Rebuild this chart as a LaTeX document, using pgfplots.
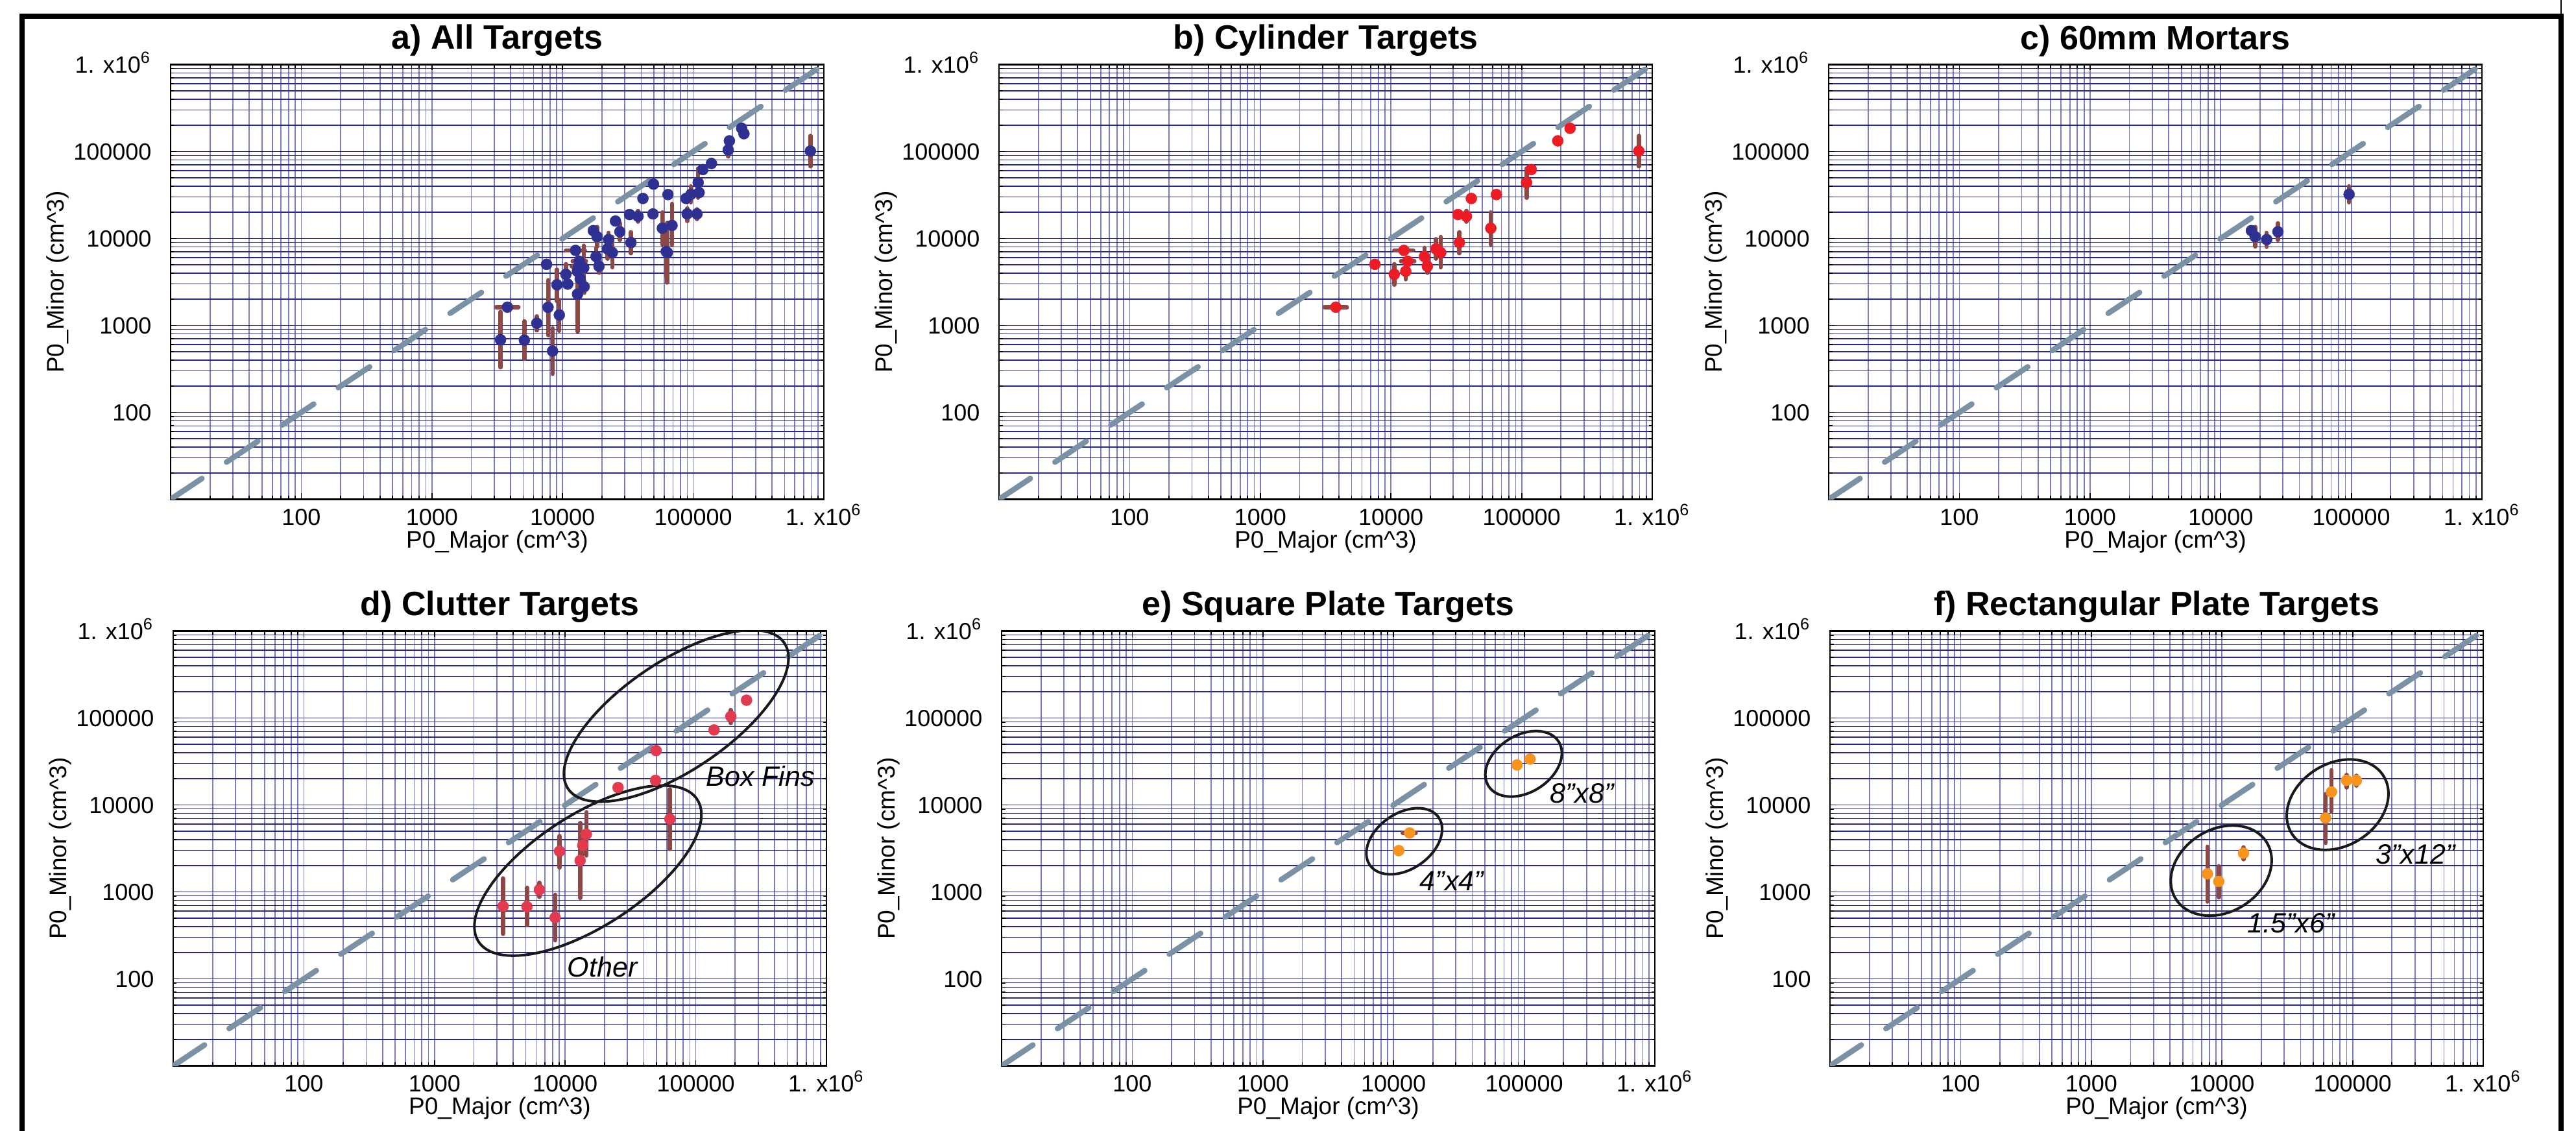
\documentclass[border=0pt]{standalone}
\usepackage{pgfplots}
\pgfplotsset{compat=1.18}
\usepackage{pgfplotstable}
\usepackage{fontspec}
\setmainfont{Liberation Sans}

\definecolor{gridh}{RGB}{40,40,140}
\definecolor{gridv}{RGB}{125,125,195}
\definecolor{dashc}{RGB}{123,146,165}
\definecolor{errc}{RGB}{140,72,68}
\definecolor{mblue}{RGB}{46,49,146}
\definecolor{mred}{RGB}{237,28,36}
\definecolor{mcrim}{RGB}{226,58,78}
\definecolor{morange}{RGB}{247,148,29}

% Cylinder targets
\pgfplotstableread{
x y xm xp ym yp
3785 1622 685 815 0 0
7540 5040 0 0 350 400
10600 3868 0 0 934 1202
12570 7290 1970 2250 0 0
13430 5464 1490 1670 0 0
12980 4193 0 0 805 1337
18030 6200 0 0 1275 1610
19000 4786 0 0 759 1067
22100 7590 0 0 1737 2240
24040 6880 0 0 2230 3530
33390 8966 0 0 2205 2854
32580 18840 0 0 1300 1500
37830 17990 0 0 2410 2780
41210 28840 0 0 2000 2300
58080 13110 0 0 4600 6840
64110 31990 0 0 2000 2300
109100 43900 0 0 14550 19930
118500 62000 0 0 4000 4500
189200 132600 0 0 8000 9000
234800 185100 0 0 11000 12000
789000 101150 0 0 33550 50250
}\tabB

% 60mm mortars
\pgfplotstableread{
x y xm xp ym yp
17180 12300 1000 1000 900 1200
18370 10470 0 0 2388 3100
22500 9716 0 0 1726 1894
27440 11950 0 0 2345 3010
96100 32180 0 0 6180 7630
}\tabC

% Clutter targets
\pgfplotstableread{
x y xm xp ym yp
3350 684 0 0 355 745
5100 676 0 0 262 440
6350 1059 0 0 183 215
8380 507 0 0 230 421
9060 2934 0 0 1029 1456
13020 2291 0 0 1440 3909
13640 3428 0 0 700 900
14530 4597 0 0 1982 3674
25410 15850 0 0 1000 1100
49200 19160 0 0 1200 1300
49650 42170 0 0 2500 2800
63370 6880 0 0 3772 8260
138000 72860 0 0 5000 5500
185400 104100 0 0 16500 19600
244500 160300 0 0 10000 11000
}\tabD

% Square plate targets
\pgfplotstableread{
x y xm xp ym yp
10960 2985 700 700 0 0
13280 4759 1530 1510 0 0
88100 28840 4000 4000 0 0
110900 33690 7000 7000 0 0
}\tabE

% Rectangular plate targets
\pgfplotstableread{
x y xm xp ym yp
7744 1613 0 0 841 1698
9445 1318 0 0 452 654
14620 2786 0 0 415 468
62090 7079 0 0 3428 6261
68870 14130 0 0 5716 10970
89900 19180 0 0 3330 3000
106900 19180 0 0 2500 2500
}\tabF

\newcommand{\axopts}{%
    xmode=log, ymode=log, xmin=10, xmax=1000000, ymin=10, ymax=1000000,
    scale only axis, width=201.4pt, height=134pt,
    xtick={10,100,1000,10000,100000,1000000},
    ytick={10,100,1000,10000,100000,1000000},
    xticklabels={,100,1000,10000,100000,{1. x10\textsuperscript{6}}},
    yticklabels={,100,1000,10000,100000,{1. x10\textsuperscript{6}}},
    grid=both,
    x grid style={gridv, line width=0.35pt},
    y grid style={gridh, line width=0.3pt},
    tick align=inside, tick pos=both,
    major tick length=1.8pt, minor tick length=1.1pt,
    tick style={black, line width=0.35pt},
    axis line style={black, line width=0.45pt},
    tick label style={font=\fontsize{7.2}{8}\selectfont, inner sep=0pt},
    xticklabel style={anchor=base, yshift=-8pt},
    yticklabel style={anchor=base east, xshift=-5.7pt, yshift=-2.6pt},
    xlabel={P0\_Major (cm\textasciicircum 3)},
    ylabel={P0\_Minor (cm\textasciicircum 3)},
    label style={font=\fontsize{7.4}{9}\selectfont},
    xlabel style={at={(axis description cs:0.5,-0.097)}, anchor=center},
    ylabel style={at={(axis description cs:-0.1728,0.5)}, anchor=center},
    title style={at={(axis description cs:0.5,1.055)}, anchor=center, yshift=-6pt, font=\bfseries\fontsize{10.4}{12}\selectfont},
    anchor=south west}
\newcommand{\beginpanel}[1]{%
  \edef\tmpopen{\noexpand\begin{axis}[\unexpanded\expandafter{\axopts},\unexpanded{#1}]}\tmpopen}

\newcommand{\diagline}{\addplot[dashc, line width=1.7pt, dash pattern=on 11.6pt off 9.1pt, line cap=round] coordinates {(10,10) (1000000,1000000)};}
\newcommand{\pts}[2]{\addplot[only marks, mark=*, color=#1, mark size=1.7pt, mark options={draw=#1, fill=#1, line width=0.1pt}] table[x=x,y=y] {#2};}
\newcommand{\errtab}[1]{\addplot[draw=none, mark=none, forget plot,
    error bars/x dir=both, error bars/x explicit,
    error bars/y dir=both, error bars/y explicit,
    error bars/error mark=none,
    error bars/error bar style={draw=errc, line width=1.3pt, line cap=round}]
    table[x=x, y=y, x error minus=xm, x error plus=xp, y error minus=ym, y error plus=yp] {#1};}
\newcommand{\annot}[1]{\fontsize{8.6}{10}\selectfont\itshape #1}

\begin{document}
\begin{tikzpicture}
\useasboundingbox (0,0) rectangle (794.2pt,348.4pt);
\fill[white] (0,0) rectangle (794.2pt,348.4pt);

% a) All targets
\beginpanel{at={(52.6pt,194.5pt)}, title={a) All Targets}}
\diagline
\pts{mblue}{\tabB}
\pts{mblue}{\tabC}
\pts{mblue}{\tabD}
\pts{mblue}{\tabE}
\pts{mblue}{\tabF}
\errtab{\tabB}
\errtab{\tabC}
\errtab{\tabD}
\errtab{\tabE}
\errtab{\tabF}
\end{axis}

% b) Cylinder targets
\beginpanel{at={(308pt,194.5pt)}, title={b) Cylinder Targets}}
\diagline
\pts{mred}{\tabB}
\errtab{\tabB}
\end{axis}

% c) 60mm mortars
\beginpanel{at={(563.8pt,194.5pt)}, title={c) 60mm Mortars}}
\diagline
\pts{mblue}{\tabC}
\errtab{\tabC}
\end{axis}

% d) Clutter targets
\beginpanel{at={(53.4pt,19.9pt)}, title={d) Clutter Targets}}
\diagline
\pts{mcrim}{\tabD}
\errtab{\tabD}
\draw[line width=0.8pt, black!90, rotate around={34:(axis cs:70800,105700)}] (axis cs:70800,105700) ellipse [x radius=40.2pt, y radius=16.8pt];
\draw[line width=0.8pt, black!90, rotate around={33:(axis cs:14930,1758)}] (axis cs:14930,1758) ellipse [x radius=40.2pt, y radius=17.2pt];
\node at (axis cs:311900,21380) {\annot{Box Fins}};
\node at (axis cs:19300,137.4) {\annot{Other}};
\end{axis}

% e) Square plate targets
\beginpanel{at={(308.8pt,19.9pt)}, title={e) Square Plate Targets}}
\diagline
\pts{morange}{\tabE}
\errtab{\tabE}
\draw[line width=0.8pt, black!90, rotate around={34.7:(axis cs:12070,3824)}] (axis cs:12070,3824) ellipse [x radius=12.9pt, y radius=8.6pt];
\draw[line width=0.8pt, black!90, rotate around={32.3:(axis cs:98900,29690)}] (axis cs:98900,29690) ellipse [x radius=12.8pt, y radius=8.8pt];
\node at (axis cs:27900,1334) {\annot{4"x4"}};
\node at (axis cs:276700,13630) {\annot{8"x8"}};
\end{axis}

% f) Rectangular plate targets
\beginpanel{at={(564.2pt,19.9pt)}, title={f) Rectangular Plate Targets}}
\diagline
\pts{morange}{\tabF}
\errtab{\tabF}
\draw[line width=0.8pt, black!90, rotate around={31.8:(axis cs:9870,1758)}] (axis cs:9870,1758) ellipse [x radius=16.5pt, y radius=12.75pt];
\draw[line width=0.8pt, black!90, rotate around={32:(axis cs:76740,10070)}] (axis cs:76740,10070) ellipse [x radius=16.7pt, y radius=12.7pt];
\node at (axis cs:33800,435.5) {\annot{1.5"x6"}};
\node at (axis cs:302700,2706) {\annot{3"x12"}};
\end{axis}

% outer frame
\draw[line width=1.5pt, line cap=rect] (6.8pt,0) -- (6.8pt,343.4pt) -- (789.6pt,343.4pt) -- (789.6pt,0);
\draw[line width=0.4pt] (789.6pt,343.4pt) -- (789.6pt,348.4pt);
\end{tikzpicture}
\end{document}
